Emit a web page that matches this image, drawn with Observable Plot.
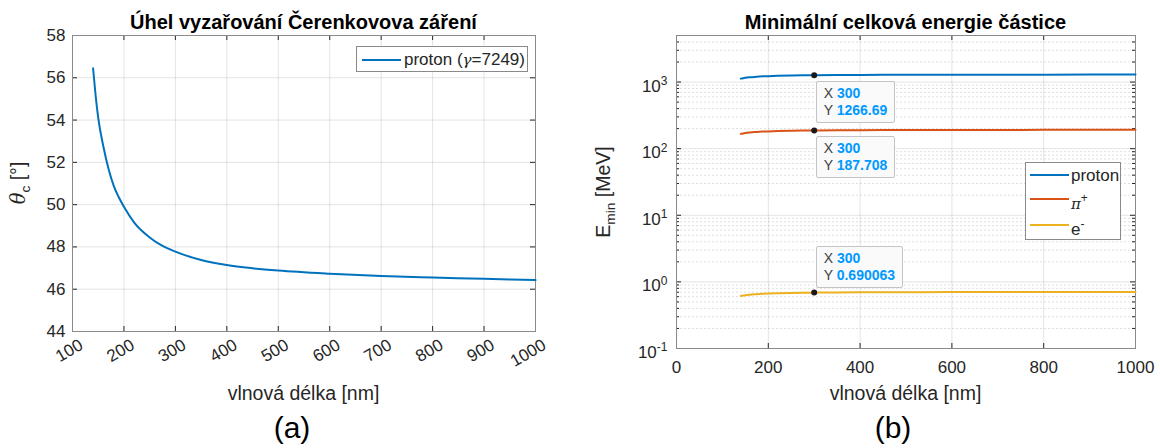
<!DOCTYPE html>
<html><head><meta charset="utf-8">
<script src="https://cdn.jsdelivr.net/npm/d3@7"></script>
<script src="https://cdn.jsdelivr.net/npm/@observablehq/plot@0.6"></script>
<style>
body{margin:0;background:#fff;}
#wrap{position:relative;width:1160px;height:448px;overflow:hidden;background:#fff;font-family:"Liberation Sans",Arial,Helvetica,sans-serif;color:#262626;}
.abs{position:absolute;white-space:nowrap;line-height:1;}
.title{font-weight:bold;font-size:20px;color:#000;transform:translate(-50%,0);}
.xlab{font-size:19.5px;transform:translate(-50%,0);}
.ylab{font-size:19.5px;transform:translate(-50%,-50%) rotate(-90deg);}
.panel{font-size:30px;color:#000;transform:translate(-50%,0);}
.legend{position:absolute;background:#fff;border:1px solid #8a8a8a;box-sizing:border-box;font-size:17px;}
.lg-line{position:absolute;height:2px;}
.lg-text{position:absolute;white-space:nowrap;line-height:1;}
.tip{position:absolute;background:rgba(250,250,250,0.95);border:1px solid #c4c4c4;border-radius:2px;box-sizing:border-box;font-size:14px;padding:3px 7px 0 7px;line-height:17px;color:#404040;}
.tip b{color:#0099ff;}
sub,sup{font-size:70%;line-height:0;}
</style></head><body><div id="wrap"></div>
<script>
// ---------- data ----------
const wavelength = [140, 145, 150, 160, 170, 180, 190, 200, 220, 250, 275, 300, 350, 400, 450, 500, 600, 700, 800, 900, 1000];
const thetaProton = [56.45, 55.15, 54.1, 52.75, 51.7, 50.9, 50.35, 49.9, 49.15, 48.45, 48.05, 47.78, 47.38, 47.14, 46.99, 46.88, 46.73, 46.62, 46.55, 46.49, 46.43];
const eProton = [1125.8, 1143.4, 1158.3, 1179.0, 1195.6, 1209.1, 1218.7, 1226.7, 1240.4, 1253.7, 1261.6, 1266.69, 1275.2, 1280.2, 1283.4, 1285.7, 1288.8, 1291.1, 1292.7, 1294.0, 1295.3];
const ePion = [166.8, 169.4, 171.6, 174.7, 177.2, 179.2, 180.6, 181.8, 183.8, 185.8, 187.0, 187.708, 189.0, 189.7, 190.2, 190.5, 191.0, 191.3, 191.6, 191.8, 191.9];
const eElectron = [0.6133, 0.6229, 0.6310, 0.6423, 0.6513, 0.6587, 0.6639, 0.6683, 0.6757, 0.6830, 0.6873, 0.690063, 0.6947, 0.6974, 0.6992, 0.7004, 0.7021, 0.7034, 0.7042, 0.7049, 0.7057];
const seriesNames = ["proton", "pion", "electron"];
const seriesColors = ["#0072BD", "#D95319", "#EDB120"];
const tipX = 300;
const tipValues = [1266.69, 187.708, 0.690063];
const tipLabels = ["1266.69", "187.708", "0.690063"];
const xTicksA = [100, 200, 300, 400, 500, 600, 700, 800, 900, 1000];
const yTicksA = [44, 46, 48, 50, 52, 54, 56, 58];
const xTicksB = [0, 200, 400, 600, 800, 1000];
const yTicksB = [0.1, 1, 10, 100, 1000];
const yMinorB = [0.2,0.3,0.4,0.5,0.6,0.7,0.8,0.9, 2,3,4,5,6,7,8,9, 20,30,40,50,60,70,80,90, 200,300,400,500,600,700,800,900, 2000,3000,4000,5000];

const curveA = wavelength.map((w, i) => ({w, t: thetaProton[i]}));
const curveB = seriesNames.flatMap((s, k) => wavelength.map((w, i) => ({w, s, e: [eProton, ePion, eElectron][k][i]})));
const tipData = seriesNames.map((s, k) => ({w: tipX, e: tipValues[k], s}));

const wrap = document.getElementById("wrap");
const FONT = '"Liberation Sans", Arial, Helvetica, sans-serif';
const AX = "#8a8a8a", TXT = "#262626";

// ---------- panel (a) ----------
const A = {w: 580, h: 448, ml: 72, mr: 45, mt: 35, mb: 117};
const aPH = A.h - A.mt - A.mb, aPW = A.w - A.ml - A.mr;
const plotA = Plot.plot({
  width: A.w, height: A.h, marginLeft: A.ml, marginRight: A.mr, marginTop: A.mt, marginBottom: A.mb,
  x: {domain: [100, 1000]},
  y: {domain: [44, 58]},
  style: {fontFamily: FONT, fontSize: "17px", color: TXT, background: "transparent", overflow: "visible"},
  marks: [
    Plot.gridX(xTicksA, {stroke: "#000", strokeOpacity: 0.11}),
    Plot.gridY(yTicksA, {stroke: "#000", strokeOpacity: 0.11}),
    Plot.tickX(xTicksA, {x: d => d, insetTop: aPH - 5, stroke: TXT}),
    Plot.tickX(xTicksA, {x: d => d, insetBottom: aPH - 5, stroke: TXT}),
    Plot.tickY(yTicksA, {y: d => d, insetRight: aPW - 5, stroke: TXT}),
    Plot.tickY(yTicksA, {y: d => d, insetLeft: aPW - 5, stroke: TXT}),
    Plot.axisX(xTicksA, {tickSize: 0, tickPadding: 12, tickRotate: -30, textAnchor: "end", dx: 9, label: null, fontSize: 17, fill: TXT, tickFormat: d => String(d)}),
    Plot.axisY(yTicksA, {tickSize: 0, tickPadding: 7, label: null, fontSize: 17, fill: TXT, tickFormat: d => String(d)}),
    Plot.frame({stroke: AX}),
    Plot.line(curveA, {x: "w", y: "t", stroke: seriesColors[0], strokeWidth: 2, curve: "monotone-x"})
  ]
});
plotA.style.position = "absolute"; plotA.style.left = "0px"; plotA.style.top = "0px";
wrap.appendChild(plotA);

// ---------- panel (b) ----------
const B = {w: 580, h: 448, ml: 96, mr: 25, mt: 35, mb: 100, left: 580};
const bPH = B.h - B.mt - B.mb, bPW = B.w - B.ml - B.mr;
const plotB = Plot.plot({
  width: B.w, height: B.h, marginLeft: B.ml, marginRight: B.mr, marginTop: B.mt, marginBottom: B.mb,
  x: {domain: [0, 1000]},
  y: {type: "log", domain: [0.1, 5000]},
  color: {domain: seriesNames, range: seriesColors},
  style: {fontFamily: FONT, fontSize: "17px", color: TXT, background: "transparent", overflow: "visible"},
  marks: [
    Plot.gridY(yMinorB, {stroke: "#000", strokeOpacity: 0.13, strokeDasharray: "2,2"}),
    Plot.gridX(xTicksB, {stroke: "#000", strokeOpacity: 0.11}),
    Plot.gridY(yTicksB, {stroke: "#000", strokeOpacity: 0.11}),
    Plot.tickX(xTicksB, {x: d => d, insetTop: bPH - 5, stroke: TXT}),
    Plot.tickX(xTicksB, {x: d => d, insetBottom: bPH - 5, stroke: TXT}),
    Plot.tickY(yTicksB, {y: d => d, insetRight: bPW - 5, stroke: TXT}),
    Plot.tickY(yTicksB, {y: d => d, insetLeft: bPW - 5, stroke: TXT}),
    Plot.tickY(yMinorB, {y: d => d, insetRight: bPW - 3, stroke: TXT}),
    Plot.tickY(yMinorB, {y: d => d, insetLeft: bPW - 3, stroke: TXT}),
    Plot.axisX(xTicksB, {tickSize: 0, tickPadding: 12, label: null, fontSize: 17, fill: TXT, tickFormat: d => String(d)}),
    Plot.axisY(yTicksB, {tickSize: 0, tickPadding: 9, label: null, fontSize: 17, fill: TXT, tickFormat: d => "10^" + Math.round(Math.log10(d)), dy: 4}),
    Plot.frame({stroke: AX}),
    Plot.line(curveB, {x: "w", y: "e", z: "s", stroke: "s", strokeWidth: 2, curve: "monotone-x"}),
    Plot.dot(tipData, {x: "w", y: "e", r: 3, fill: "#1a1a1a", stroke: "none"})
  ]
});
plotB.style.position = "absolute"; plotB.style.left = B.left + "px"; plotB.style.top = "0px";
wrap.appendChild(plotB);

// superscript exponents on log tick labels
d3.select(plotB).selectAll('g[aria-label="y-axis tick label"] text').each(function() {
  const t = this.textContent; const m = t.split("^");
  const sel = d3.select(this); sel.text(null);
  sel.append("tspan").text(m[0]);
  sel.append("tspan").attr("dy", "-0.55em").attr("font-size", "12px").text(m[1]);
});

// ---------- text annotations ----------
function add(html, cls, x, y) {
  const d = document.createElement("div"); d.className = "abs " + cls; d.innerHTML = html;
  d.style.left = x + "px"; d.style.top = y + "px"; wrap.appendChild(d); return d;
}
const aCx = A.ml + aPW / 2, bCx = B.left + B.ml + bPW / 2;
add("Úhel vyzařování Čerenkovova záření", "title", aCx, 12);
add("Minimální celková energie částice", "title", bCx, 12);
add("vlnová délka [nm]", "xlab", aCx, 384);
add("vlnová délka [nm]", "xlab", bCx, 384);
add('<i style="font-family:\'DejaVu Serif\',serif">θ</i><sub>c</sub> [°]', "ylab", 19, A.mt + aPH / 2);
add('E<sub>min</sub> [MeV]', "ylab", 604, B.mt + bPH / 2);
add("(a)", "panel", 292, 413);
add("(b)", "panel", 893, 413);

// legend (a)
const lgA = document.createElement("div"); lgA.className = "legend";
Object.assign(lgA.style, {left: "356px", top: "46px", width: "172px", height: "26px"});
lgA.innerHTML = `<div class="lg-line" style="left:5px;top:12px;width:39px;background:${seriesColors[0]}"></div>` +
  `<div class="lg-text" style="left:47px;top:4px">proton (<i style="font-family:'DejaVu Serif',serif;font-size:15px">γ</i>=7249)</div>`;
wrap.appendChild(lgA);

// legend (b)
const lgB = document.createElement("div"); lgB.className = "legend";
Object.assign(lgB.style, {left: "1025px", top: "162px", width: "96px", height: "78px"});
const lgLabels = ["proton", '<i style="font-family:\'DejaVu Serif\',serif;font-size:15px">π</i><sup>+</sup>', 'e<sup>-</sup>'];
const lgY = [12, 36, 62];
lgB.innerHTML = seriesNames.map((s, k) =>
  `<div class="lg-line" style="left:4px;top:${lgY[k] - 1}px;width:39px;background:${seriesColors[k]}"></div>` +
  `<div class="lg-text" style="left:45px;top:${lgY[k] - 8 + (k ? 4 : 0)}px">${lgLabels[k]}</div>`).join("");
wrap.appendChild(lgB);

// data tips, positioned with panel (b)'s scales
const sx = plotB.scale("x"), sy = plotB.scale("y");
tipData.forEach((d, k) => {
  const px = B.left + sx.apply(d.w), py = sy.apply(d.e);
  const t = document.createElement("div"); t.className = "tip";
  t.innerHTML = `X <b>${tipX}</b><br>Y <b>${tipLabels[k]}</b>`;
  t.style.left = (px + 2) + "px";
  if (k < 2) t.style.top = (py + 6) + "px";
  else t.style.top = (py - 4 - 42) + "px";
  t.style.height = "42px";
  wrap.appendChild(t);
});
</script></body></html>
